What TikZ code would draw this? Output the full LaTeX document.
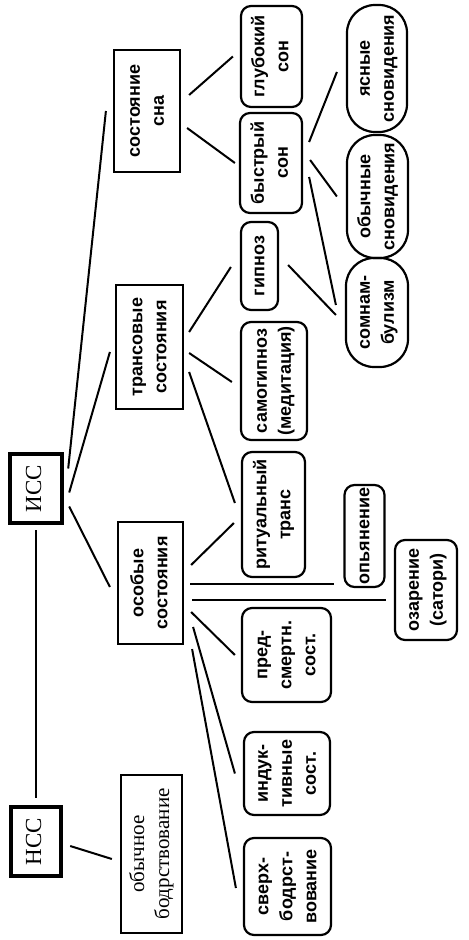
\documentclass[tikz,border=0pt]{standalone}
\usepackage{fontspec}
\setmainfont{Liberation Serif}
\newfontfamily\lblfont{Liberation Sans}
\usepackage{graphicx}
\newcommand{\vlab}[1]{\rotatebox{90}{\begin{tabular}{@{}c@{}}#1\end{tabular}}}

\begin{document}
\begin{tikzpicture}[
  x=0.5pt, y=-0.5pt,
  every node/.style={inner sep=0pt},
  rootbox/.style={draw,line width=2.2pt,font=\fontsize{11.5}{13}\selectfont},
  statebox/.style={draw,line width=1.1pt,font=\lblfont\bfseries\fontsize{9}{12}\selectfont},
  plainbox/.style={draw,line width=1.1pt,font=\fontsize{10.5}{12.5}\selectfont},
  leafbox/.style={draw,line width=1.1pt,rounded corners=5pt,font=\lblfont\bfseries\fontsize{9}{12}\selectfont},
  ovalbox/.style={draw,line width=1.1pt,rounded corners=14pt,font=\lblfont\bfseries\fontsize{9}{12}\selectfont},
  conn/.style={line width=1pt},
]
  \useasboundingbox (0,0) rectangle (469,940);

  % Roots
  \node[rootbox,minimum width=26pt,minimum height=34.5pt] (isc) at (36,488.5) {\vlab{ИСС}};
  \node[rootbox,minimum width=25pt,minimum height=34.5pt] (nsc) at (36,841.5) {\vlab{НСС}};

  % Second level
  \node[statebox,minimum width=33pt,minimum height=61pt] (son) at (147,111) {\vlab{состояние\\сна}};
  \node[statebox,minimum width=33.5pt,minimum height=62pt] (trans) at (149.5,347) {\vlab{трансовые\\состояния}};
  \node[statebox,minimum width=32.5pt,minimum height=61pt] (osob) at (150.5,583) {\vlab{особые\\состояния}};
  \node[plainbox,minimum width=30.5pt,minimum height=79pt] (bodr) at (151.5,854) {\vlab{обычное\\бодрствование}};

  % Third level
  \node[leafbox,minimum width=30.5pt,minimum height=50.5pt] (glub) at (271.5,56.5) {\vlab{глубокий\\сон}};
  \node[leafbox,minimum width=31pt,minimum height=50pt] (bystr) at (271,163) {\vlab{быстрый\\сон}};
  \node[leafbox,minimum width=18.5pt,minimum height=44pt] (gipnoz) at (259.5,266) {\vlab{гипноз}};
  \node[leafbox,minimum width=33pt,minimum height=59pt] (samog) at (274,381) {\vlab{самогипноз\\(медитация)}};
  \node[leafbox,minimum width=31.5pt,minimum height=62.5pt] (ritual) at (273.5,514.5) {\vlab{ритуальный\\транс}};
  \node[leafbox,minimum width=44.5pt,minimum height=47pt] (predsm) at (286.5,655) {\vlab{пред-\\смертн.\\сост.}};
  \node[leafbox,minimum width=43pt,minimum height=41.5pt] (indukt) at (287,773.5) {\vlab{индук-\\тивные\\сост.}};
  \node[leafbox,minimum width=43.5pt,minimum height=48.5pt] (sverh) at (287.5,886.5) {\vlab{сверх-\\бодрст-\\вование}};

  % Fourth level
  \node[ovalbox,minimum width=30pt,minimum height=63.5pt] (yasn) at (377,68.5) {\vlab{ясные\\сновидения}};
  \node[ovalbox,minimum width=30.5pt,minimum height=61.5pt] (obych) at (377.5,196.5) {\vlab{обычные\\сновидения}};
  \node[ovalbox,minimum width=31pt,minimum height=54.5pt] (somn) at (377,312.5) {\vlab{сомнам-\\булизм}};
  \node[leafbox,minimum width=20pt,minimum height=51pt] (opyan) at (364.5,536) {\vlab{опьянение}};
  \node[leafbox,minimum width=31pt,minimum height=50pt] (ozar) at (426,590) {\vlab{озарение\\(сатори)}};

  % Connectors
  \draw[conn] ([yshift=-2.5pt]isc.south) -- ([yshift=3.5pt]nsc.north);
  \draw[conn] ([xshift=2pt,yshift=10pt]isc.east) -- ([xshift=-3.5pt]son.west);
  \draw[conn] ([xshift=2.5pt,yshift=-2pt]isc.east) -- ([xshift=-2.5pt,yshift=-2.5pt]trans.west);
  \draw[conn] ([xshift=2.5pt,yshift=-9pt]isc.east) -- ([xshift=-3.5pt,yshift=-2pt]osob.west);
  \draw[conn] ([xshift=3.5pt,yshift=-2.25pt]nsc.east) -- ([xshift=-4pt,yshift=-2.5pt]bodr.west);

  \draw[conn] ([xshift=4pt,yshift=8pt]son.east) -- ([xshift=-3.5pt]glub.west);
  \draw[conn] ([xshift=3pt,yshift=-8.5pt]son.east) -- ([xshift=-2pt]bystr.west);
  \draw[conn] ([xshift=3pt,yshift=10.5pt]bystr.east) -- ([xshift=-4.5pt,yshift=-1.75pt]yasn.west);
  \draw[conn] ([xshift=3.5pt,yshift=1.5pt]bystr.east) -- ([xshift=-4.5pt]obych.west);
  \draw[conn] ([xshift=3pt,yshift=-7pt]bystr.east) -- ([xshift=-4.5pt,yshift=3.75pt]somn.west);
  \draw[conn] ([xshift=4.5pt,yshift=0.5pt]gipnoz.east) -- ([xshift=-4.5pt,yshift=-1.25pt]somn.west);

  \draw[conn] ([xshift=2.5pt,yshift=7.5pt]trans.east) -- ([xshift=-4.5pt,yshift=-0.5pt]gipnoz.west);
  \draw[conn] ([xshift=2.5pt,yshift=-3pt]trans.east) -- ([xshift=-4pt,yshift=-0.5pt]samog.west);
  \draw[conn] ([xshift=2.5pt,yshift=-12.5pt]trans.east) -- ([xshift=-3pt,yshift=5.75pt]ritual.west);

  \draw[conn] ([xshift=3.5pt,yshift=9pt]osob.east) -- ([xshift=-3.5pt,yshift=-4.25pt]ritual.west);
  \draw[conn] ([xshift=3pt,yshift=-0.5pt]osob.east) -- ([xshift=-4.5pt,yshift=-24pt]opyan.west);
  \draw[conn] ([xshift=4pt,yshift=-8.5pt]osob.east) -- ([xshift=-4pt,yshift=-5pt]ozar.west);
  \draw[conn] ([xshift=3.5pt,yshift=-14.5pt]osob.east) -- ([xshift=-3pt]predsm.west);
  \draw[conn] ([xshift=4.5pt,yshift=-22pt]osob.east) -- ([xshift=-4pt]indukt.west);
  \draw[conn] ([xshift=4pt,yshift=-2pt]osob.south east) -- ([xshift=-3.5pt,yshift=-0.75pt]sverh.west);
\end{tikzpicture}
\end{document}
